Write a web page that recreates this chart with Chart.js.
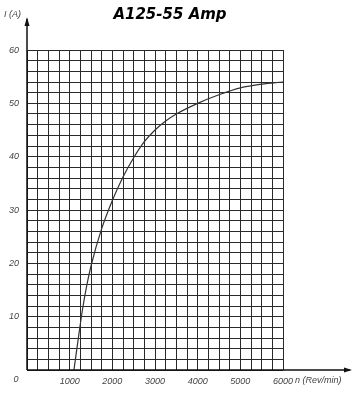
<!DOCTYPE html>
<html>
<head>
<meta charset="utf-8">
<script src="https://cdn.jsdelivr.net/npm/chart.js@4/dist/chart.umd.min.js"></script>
<style>
html,body{margin:0;padding:0;background:#fff;}
#wrap{width:358px;height:400px;position:relative;}
</style>
</head>
<body>
<div id="wrap"><canvas id="c" width="358" height="400"></canvas></div>
<script>
const chartTitle = 'A125-55 Amp';
const xAxisTitle = 'n (Rev/min)';
const yAxisTitle = 'I (A)';
const rpm =     [1100, 1200, 1300, 1400, 1500, 1750, 2000, 2250, 2500, 2750, 3000, 3250, 3500, 4000, 4500, 5000, 5500, 6000];
const current = [0,    5.8,  11.3, 15.8, 19.5, 26.5, 31.8, 36.2, 39.8, 42.8, 45.0, 46.7, 48.0, 50.0, 51.6, 52.9, 53.6, 54];
const xLabelValues = [1000, 2000, 3000, 4000, 5000, 6000];
const yLabelValues = [10, 20, 30, 40, 50, 60];

const labelFont = 'italic 9px "Liberation Sans", Arial, sans-serif';

const decor = {
  id: 'decor',
  afterDraw(chart) {
    const ctx = chart.ctx;
    const xs = chart.scales.x, ys = chart.scales.y;
    const x0 = xs.getPixelForValue(0), y0 = ys.getPixelForValue(0);
    const xEnd = xs.getPixelForValue(6000) + 67;
    const yEnd = ys.getPixelForValue(60) - 31;
    ctx.save();
    ctx.strokeStyle = '#111';
    ctx.fillStyle = '#111';
    ctx.lineWidth = 1.5;
    ctx.beginPath();
    ctx.moveTo(x0, y0); ctx.lineTo(xEnd, y0);
    ctx.moveTo(x0, y0); ctx.lineTo(x0, yEnd);
    ctx.stroke();
    ctx.beginPath();
    ctx.moveTo(xEnd + 2, y0); ctx.lineTo(xEnd - 6, y0 - 2.5); ctx.lineTo(xEnd - 6, y0 + 2.5); ctx.closePath();
    ctx.fill();
    ctx.beginPath();
    ctx.moveTo(x0, yEnd - 2); ctx.lineTo(x0 - 2.5, yEnd + 7); ctx.lineTo(x0 + 2.5, yEnd + 7); ctx.closePath();
    ctx.fill();
    ctx.fillStyle = '#444';
    ctx.font = labelFont;
    ctx.textBaseline = 'middle';
    ctx.textAlign = 'center';
    ctx.fillText('0', x0 - 11, y0 + 9.5);
    ctx.textAlign = 'left';
    ctx.fillText(xAxisTitle, xs.getPixelForValue(6000) + 12, y0 + 10);
    ctx.fillText(yAxisTitle, 4, 14);
    ctx.fillStyle = '#000';
    ctx.font = 'bold italic 15px "DejaVu Sans", sans-serif';
    ctx.textAlign = 'center';
    ctx.fillText(chartTitle, 170, 15);
    ctx.restore();
  }
};

new Chart(document.getElementById('c'), {
  type: 'line',
  data: {
    datasets: [{
      data: rpm.map((r, i) => ({x: r, y: current[i]})),
      borderColor: '#333',
      borderWidth: 1.2,
      pointRadius: 0,
      fill: false,
      cubicInterpolationMode: 'monotone'
    }]
  },
  options: {
    responsive: false,
    animation: false,
    layout: {padding: {top: 50, right: 75, left: 0, bottom: 0}},
    plugins: {legend: {display: false}, tooltip: {enabled: false}, title: {display: false}},
    scales: {
      x: {
        type: 'linear', min: 0, max: 6000,
        afterFit(s) { s.height = 30; },
        border: {display: false},
        grid: {color: '#2a2a2a', lineWidth: 1, drawTicks: false},
        ticks: {
          stepSize: 250, autoSkip: false, maxRotation: 0, padding: 6,
          color: '#444', font: {family: '"Liberation Sans", Arial, sans-serif', style: 'italic', size: 9},
          callback: v => xLabelValues.includes(v) ? String(v) : ''
        }
      },
      y: {
        type: 'linear', min: 0, max: 60,
        afterFit(s) { s.width = 27; },
        border: {display: false},
        grid: {color: '#2a2a2a', lineWidth: 1, drawTicks: false},
        ticks: {
          stepSize: 2, autoSkip: false, padding: 8,
          color: '#444', font: {family: '"Liberation Sans", Arial, sans-serif', style: 'italic', size: 9},
          callback: v => yLabelValues.includes(v) ? String(v) : ''
        }
      }
    }
  },
  plugins: [decor]
});
</script>
</body>
</html>
